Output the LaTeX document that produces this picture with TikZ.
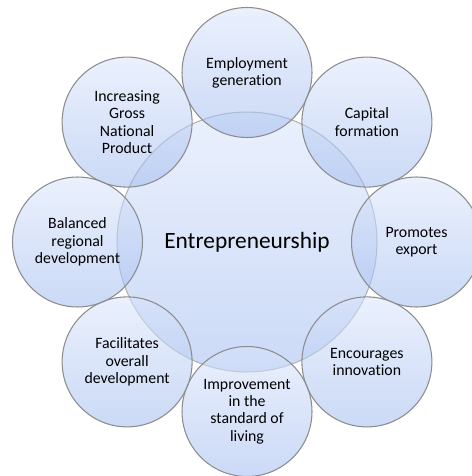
\documentclass[tikz,border=0pt]{standalone}
\usepackage{fontspec}
\setmainfont{Carlito}[Ligatures=NoCommon]
\definecolor{bubbletop}{RGB}{218,228,250}
\definecolor{bubblebottom}{RGB}{160,187,240}

\begin{document}
\begin{tikzpicture}[x=0.02cm,y=-0.02cm]
    \useasboundingbox (0,0) rectangle (471,476);

    \begin{scope}[every node/.style={circle,draw=black!30,line width=0.6pt,
        top color=bubbletop,bottom color=bubblebottom,fill opacity=0.55,
        text opacity=1,inner sep=0pt,minimum size=5.2cm,
        font=\fontsize{13.3}{16}\selectfont}]
      \node (entre) at (247,242) {Entrepreneurship};
    \end{scope}

    \begin{scope}[every node/.style={circle,draw=black!45,line width=0.6pt,
        top color=bubbletop,bottom color=bubblebottom,fill opacity=0.55,
        text opacity=1,inner sep=0pt,minimum size=2.6cm,align=center,
        font=\fontsize{9}{9.8}\selectfont}]%text=black}]
      \node (emp) at (247,72.5) {Employment\\generation};
      \node (cap) at (366.9,122.1) {Capital\\formation};
      \node (exp) at (416.5,242) {Promotes\\export};
      \node (inn) at (366.9,361.9) {Encourages\\innovation};
      \node (liv) at (247,411.5) {Improvement\\in the\\standard of\\living};
      \node (fac) at (127.1,361.9) {Facilitates\\overall\\development};
      \node (bal) at (77.5,242) {Balanced\\regional\\development};
      \node (gnp) at (127.1,122.1) {Increasing\\Gross\\National\\Product};
    \end{scope}
  \end{tikzpicture}
\end{document}
